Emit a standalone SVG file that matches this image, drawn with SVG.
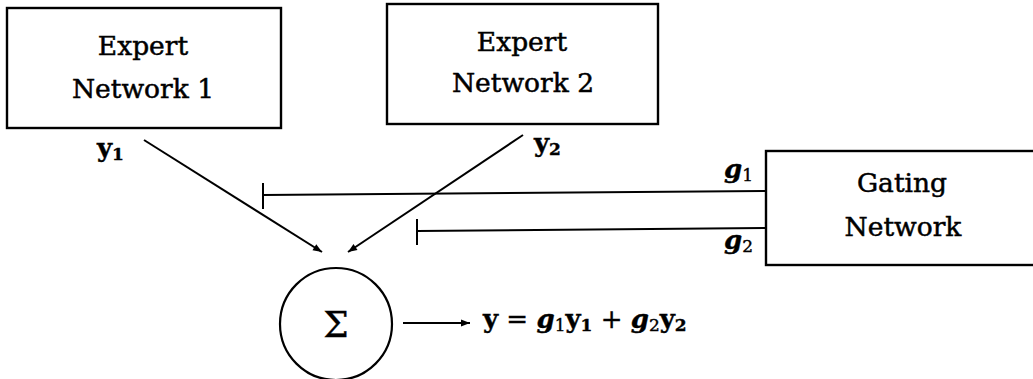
<svg xmlns="http://www.w3.org/2000/svg" width="1033" height="379" viewBox="0 0 1033 379">
<defs>
<style>
.box{fill:#fff;stroke:#000;stroke-width:2.4}
.lbl{font-family:"DejaVu Serif","Liberation Serif",serif;font-size:26.5px;fill:#000;stroke:#000;stroke-width:0.5;text-anchor:middle}
.m{font-family:"DejaVu Serif","Liberation Serif",serif;font-size:26px;fill:#000;stroke:#000;stroke-width:0.4}
.b{font-weight:bold}
.i{font-style:italic;font-weight:bold}
.sub{font-size:17px}
.ln{stroke:#000;stroke-width:2;fill:none}
</style>
<marker id="ah" viewBox="0 0 10 10" refX="10" refY="5" markerWidth="11" markerHeight="9" markerUnits="userSpaceOnUse" orient="auto">
<path d="M0,1 L10,5 L0,9 Z" fill="#000"/>
</marker>
</defs>
<rect width="1033" height="379" fill="#fff"/>
<g id="expert1">
<rect class="box" x="7" y="8" width="274" height="120"/>
<text class="lbl" x="143" y="55">Expert</text>
<text class="lbl" x="143" y="98">Network 1</text>
</g>
<g id="expert2">
<rect class="box" x="387" y="4" width="271" height="120"/>
<text class="lbl" x="522" y="51">Expert</text>
<text class="lbl" x="523" y="92">Network 2</text>
</g>
<g id="gating">
<rect class="box" x="766" y="151" width="280" height="114"/>
<text class="lbl" x="902" y="192">Gating</text>
<text class="lbl" x="903" y="236">Network</text>
</g>
<g id="sum">
<circle cx="336" cy="324" r="56" fill="#fff" stroke="#000" stroke-width="2.2"/>
<text class="lbl" x="336" y="337" style="font-size:36px;stroke-width:0.3">Σ</text>
</g>
<g id="connectors">
<line class="ln" x1="144" y1="140" x2="322" y2="252" marker-end="url(#ah)"/>
<line class="ln" x1="523" y1="135" x2="348" y2="252" marker-end="url(#ah)"/>
<line class="ln" x1="766" y1="191" x2="263" y2="195"/>
<line class="ln" x1="263" y1="183" x2="263" y2="209" stroke-width="2.4"/>
<line class="ln" x1="766" y1="228" x2="417" y2="231"/>
<line class="ln" x1="417" y1="219" x2="417" y2="245" stroke-width="2.4"/>
<line class="ln" x1="403" y1="323" x2="470" y2="323" marker-end="url(#ah)"/>
</g>
<g id="labels">
<text class="m" x="97" y="157"><tspan class="b">y</tspan><tspan class="sub b" dy="3">1</tspan></text>
<text class="m" x="534" y="152"><tspan class="b">y</tspan><tspan class="sub b" dy="3">2</tspan></text>
<text class="m" x="724" y="178"><tspan class="i">g</tspan><tspan class="sub" dy="3">1</tspan></text>
<text class="m" x="724" y="249"><tspan class="i">g</tspan><tspan class="sub" dy="3">2</tspan></text>
<text class="m" x="483" y="328"><tspan class="b">y</tspan> = <tspan class="i">g</tspan><tspan class="sub" dy="3">1</tspan><tspan class="b" dy="-3">y</tspan><tspan class="sub b" dy="3">1</tspan><tspan dy="-3"> + </tspan><tspan class="i">g</tspan><tspan class="sub" dy="3">2</tspan><tspan class="b" dy="-3">y</tspan><tspan class="sub b" dy="3">2</tspan></text>
</g>
</svg>
